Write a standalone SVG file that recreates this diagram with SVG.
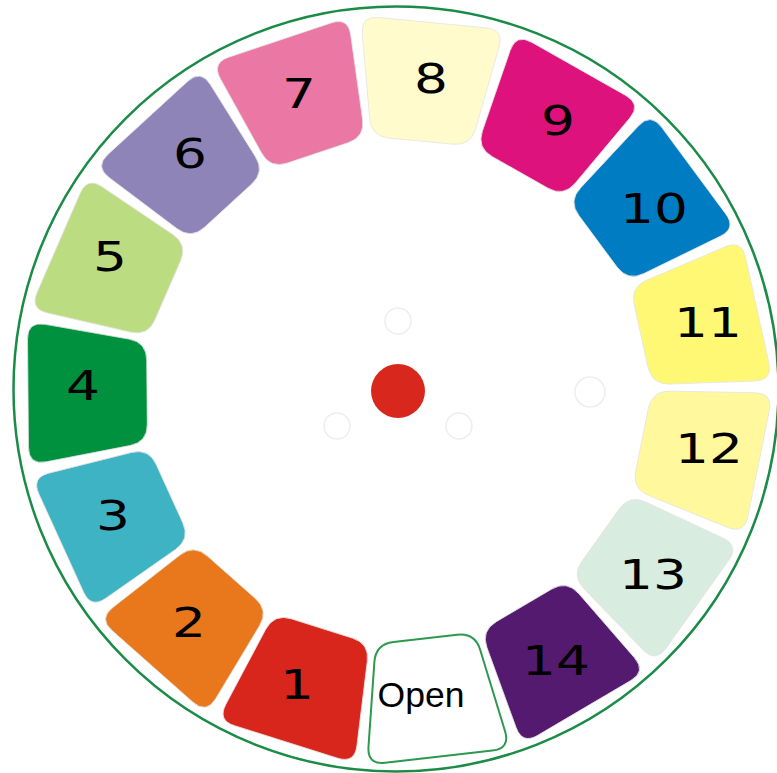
<svg xmlns="http://www.w3.org/2000/svg" xmlns:xlink="http://www.w3.org/1999/xlink" width="777" height="773" viewBox="0 0 777 773">
<style>
.tile{stroke:#e4e4e4;stroke-width:0.8}
.num{font-family:"DejaVu Sans",Verdana,sans-serif;font-size:41px;fill:#000;text-anchor:middle}
.open{font-family:"Liberation Sans",Arial,sans-serif;font-size:35.5px;fill:#000;text-anchor:middle}
.ring{fill:none;stroke:#eeeeee;stroke-width:1.5}
</style>
<defs>
<path id="tile" d="M267.7,-53.27 L351.3,-68.73 Q369,-72 369,-54 L369,54 Q369,72 351.3,68.73 L267.7,53.27 Q250,50 250,32 L250,-32 Q250,-50 267.7,-53.27 Z"/>
</defs>
<rect width="777" height="773" fill="#ffffff"/>
<g id="rim"><circle cx="396" cy="389" r="382.5" fill="none" stroke="#1a8c47" stroke-width="2.5"/></g>
<g id="connectors"></g>
<g id="tile-open"><use xlink:href="#tile" transform="translate(397,390) rotate(83.5)" fill="#ffffff" stroke="#2b9a4f" stroke-width="2"/><text class="open" x="421" y="707">Open</text></g>
<g id="tile-1"><use xlink:href="#tile" class="tile" transform="translate(397,390) rotate(107.5)" fill="#d9261c"/><text class="num" transform="translate(297,699) scale(1.3,1)">1</text></g>
<g id="tile-2"><use xlink:href="#tile" class="tile" transform="translate(397,390) rotate(131.5)" fill="#e8781b"/><text class="num" transform="translate(189,637) scale(1.3,1)">2</text></g>
<g id="tile-3"><use xlink:href="#tile" class="tile" transform="translate(397,390) rotate(155.5)" fill="#3db3c4"/><text class="num" transform="translate(113,530) scale(1.3,1)">3</text></g>
<g id="tile-4"><use xlink:href="#tile" class="tile" transform="translate(397,390) rotate(179.5)" fill="#00913f"/><text class="num" transform="translate(83,400) scale(1.3,1)">4</text></g>
<g id="tile-5"><use xlink:href="#tile" class="tile" transform="translate(397,390) rotate(203.5)" fill="#bcdc81"/><text class="num" transform="translate(110,271) scale(1.3,1)">5</text></g>
<g id="tile-6"><use xlink:href="#tile" class="tile" transform="translate(397,390) rotate(227.5)" fill="#8f84b7"/><text class="num" transform="translate(190,168) scale(1.3,1)">6</text></g>
<g id="tile-7"><use xlink:href="#tile" class="tile" transform="translate(397,390) rotate(251.5)" fill="#ea77a4"/><text class="num" transform="translate(299,108) scale(1.3,1)">7</text></g>
<g id="tile-8"><use xlink:href="#tile" class="tile" transform="translate(397,390) rotate(275.5)" fill="#fffbcd"/><text class="num" transform="translate(431,93) scale(1.3,1)">8</text></g>
<g id="tile-9"><use xlink:href="#tile" class="tile" transform="translate(397,390) rotate(299.5)" fill="#de127c"/><text class="num" transform="translate(558,135) scale(1.3,1)">9</text></g>
<g id="tile-10"><use xlink:href="#tile" class="tile" transform="translate(397,390) rotate(323.5)" fill="#007dc2"/><text class="num" transform="translate(654,223) scale(1.3,1)">10</text></g>
<g id="tile-11"><use xlink:href="#tile" class="tile" transform="translate(397,390) rotate(347.5)" fill="#fff875"/><text class="num" transform="translate(708,337) scale(1.3,1)">11</text></g>
<g id="tile-12"><use xlink:href="#tile" class="tile" transform="translate(397,390) rotate(11.5)" fill="#fff89d"/><text class="num" transform="translate(709,463) scale(1.3,1)">12</text></g>
<g id="tile-13"><use xlink:href="#tile" class="tile" transform="translate(397,390) rotate(35.5)" fill="#d9ece0"/><text class="num" transform="translate(653,589) scale(1.3,1)">13</text></g>
<g id="tile-14"><use xlink:href="#tile" class="tile" transform="translate(397,390) rotate(59.5)" fill="#531a6f"/><text class="num" transform="translate(556,675) scale(1.3,1)">14</text></g>
<g id="center">
<circle cx="398" cy="391" r="27" fill="#d8281d"/>
<circle class="ring" cx="398" cy="321" r="13"/>
<circle class="ring" cx="337" cy="426" r="13"/>
<circle class="ring" cx="459" cy="426" r="13"/>
<circle class="ring" cx="590" cy="392" r="15"/>
</g>
</svg>
